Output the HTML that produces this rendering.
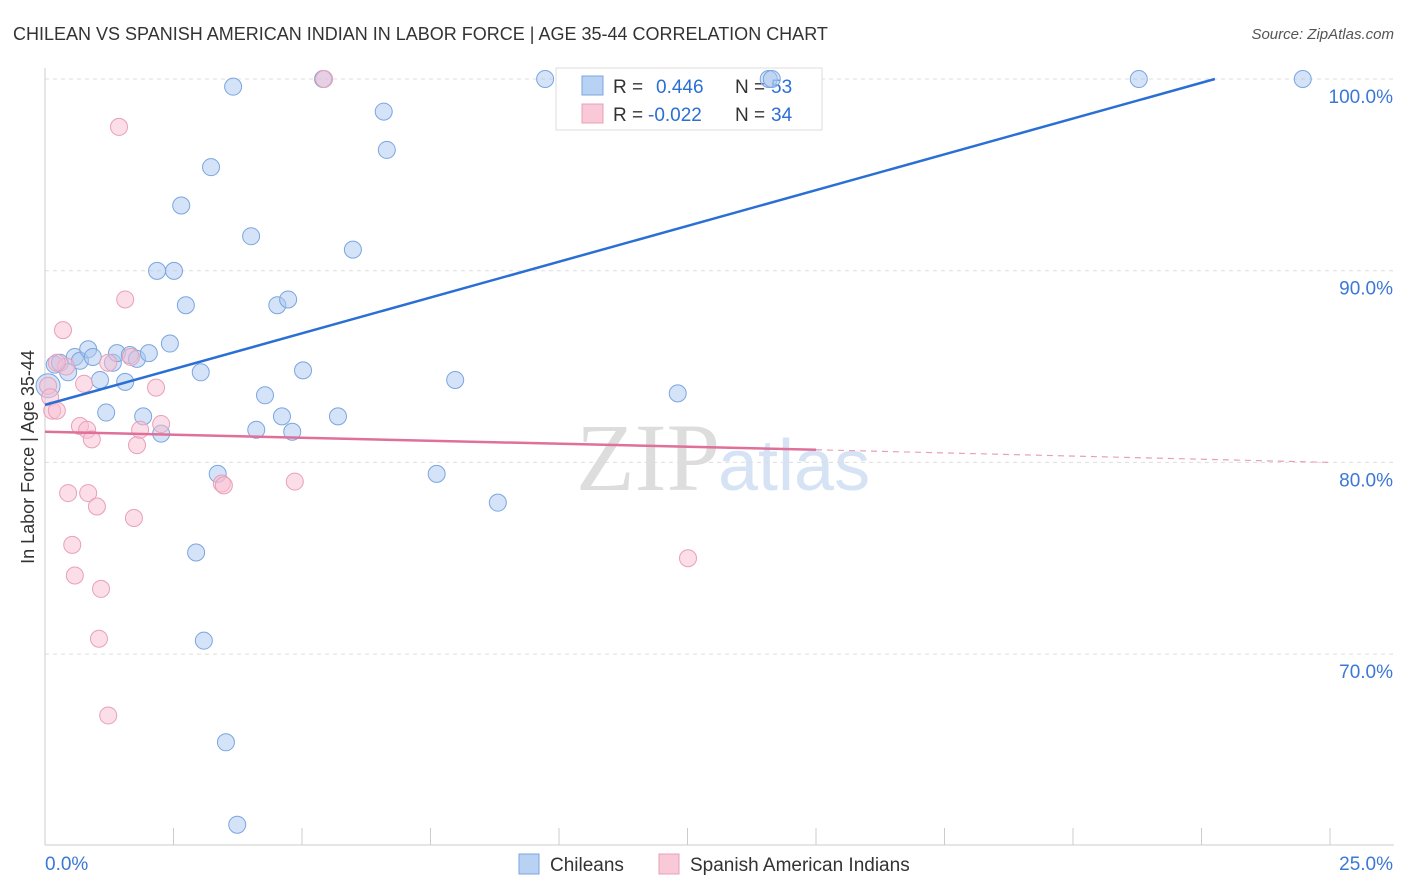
<!DOCTYPE html>
<html><head><meta charset="utf-8"><style>
body{margin:0;background:#fff;font-family:"Liberation Sans",sans-serif}
svg{display:block}
</style></head><body>
<svg id="c" width="1406" height="892" xmlns="http://www.w3.org/2000/svg">
<text x="13" y="40" font-size="18" fill="#333">CHILEAN VS SPANISH AMERICAN INDIAN IN LABOR FORCE | AGE 35-44 CORRELATION CHART</text>
<text x="1394" y="39" font-size="15" fill="#555" font-style="italic" text-anchor="end">Source: ZipAtlas.com</text>
<text x="720" y="490" font-size="96" font-family="Liberation Serif" fill="#ddd" text-anchor="end">ZIP</text>
<text x="718" y="490" font-size="72" fill="#d5e3f5">atlas</text>
<g id="grid"></g>
<g>
<rect x="556" y="68" width="266" height="62" fill="#fff" stroke="#ddd"/>
<rect x="582" y="76" width="21" height="19" fill="#b8d2f4" stroke="#7aa6e0"/>
<rect x="582" y="104" width="21" height="19" fill="#f9c9d8" stroke="#e8a0b8"/>
<text x="613" y="93" font-size="19" fill="#333">R = </text><text x="656" y="93" font-size="19" fill="#2a6fd4">0.446</text>
<text x="735" y="93" font-size="19" fill="#333">N = </text><text x="771" y="93" font-size="19" fill="#2a6fd4">53</text>
<text x="613" y="121" font-size="19" fill="#333">R = </text><text x="648" y="121" font-size="19" fill="#2a6fd4">-0.022</text>
<text x="735" y="121" font-size="19" fill="#333">N = </text><text x="771" y="121" font-size="19" fill="#2a6fd4">34</text>
</g>
<g id="marks"></g>
<text transform="translate(34,457) rotate(-90)" font-size="18" fill="#333" text-anchor="middle">In Labor Force | Age 35-44</text>
<g>
<rect x="519" y="854" width="20" height="20" fill="#b8d2f4" stroke="#7aa6e0"/>
<text x="550" y="871" font-size="19" fill="#333">Chileans</text>
<rect x="659" y="854" width="20" height="20" fill="#f9c9d8" stroke="#e8a0b8"/>
<text x="690" y="871" font-size="19" fill="#333">Spanish American Indians</text>
</g>
</svg>
<script>
const yTicks=[100,90,80,70];
const xTickLabels=["0.0%","25.0%"];
const blueX=[0.19,0.29,0.45,0.58,0.68,0.84,0.93,1.07,1.19,1.32,1.40,1.56,1.65,1.79,1.91,2.02,2.18,2.26,2.43,2.51,2.65,2.74,2.94,3.03,3.09,3.23,3.36,3.52,3.66,3.74,4.01,4.11,4.28,4.52,4.61,4.73,4.81,5.02,5.41,5.70,5.99,6.59,6.65,7.62,7.98,8.81,9.73,12.31,14.08,14.14,21.28,24.47,0.06];
const blueY=[85.1,85.2,84.7,85.5,85.3,85.9,85.5,84.3,82.6,85.2,85.7,84.2,85.6,85.4,82.4,85.7,89.99,81.5,86.2,89.99,93.4,88.2,75.3,84.7,70.7,95.4,79.4,65.4,99.6,61.1,91.8,81.7,83.5,88.2,82.4,88.5,81.6,84.8,100,82.4,91.1,98.3,96.3,79.4,84.3,77.9,100,83.6,100,100,100,100,84.0];
const pinkX=[0.06,0.10,0.14,0.23,0.35,0.41,0.45,0.53,0.58,0.68,0.76,0.82,0.84,0.91,1.01,1.05,1.09,1.23,1.23,1.44,1.56,1.67,1.73,1.79,1.85,2.16,2.26,3.44,3.48,4.86,5.43,12.51,0.23];
const pinkY=[84.0,83.4,82.7,82.7,86.9,85.0,78.4,75.7,74.1,81.9,84.1,81.7,78.4,81.2,77.7,70.8,73.4,66.8,85.2,97.5,88.5,85.5,77.1,80.9,81.7,83.9,82.0,78.9,78.8,79.0,100,75.0,85.2];
const ns="http://www.w3.org/2000/svg";
const X=v=>45+v/25*1285, Y=v=>79+(100-v)*19.17;
const svg=document.getElementById('c'),grid=document.getElementById('grid'),marks=document.getElementById('marks');
function mk(t,a,p){const e=document.createElementNS(ns,t);for(const k in a)e.setAttribute(k,a[k]);(p||svg).appendChild(e);return e;}
yTicks.forEach(t=>{
 const l=mk('line',{x1:45,x2:1394,y1:Y(t),y2:Y(t),stroke:'#ddd','stroke-dasharray':'4,4'},grid);
 
 
 const tx=mk('text',{x:1393,y:Y(t)+24,'font-size':19,fill:'#3b78d6','text-anchor':'end'},grid);
 tx.textContent=t.toFixed(1)+'%';
 
 
});
const ax=mk('line',{x1:45,x2:1394,y1:845,y2:845,stroke:'#ccc'},grid);


const ay=mk('line',{x1:45,x2:45,y1:68,y2:845,stroke:'#ccc'},grid);


for(let i=0;i<=10;i++){const t=mk('line',{x1:X(i*2.5),x2:X(i*2.5),y1:828,y2:845,stroke:'#ccc'},grid);
 
 }
[[xTickLabels[0],45,'start'],[xTickLabels[1],1393,'end']].forEach(d=>{
 const t=mk('text',{x:d[1],y:870,'font-size':19,fill:'#3b78d6','text-anchor':d[2]},grid);t.textContent=d[0];
 
 });
blueX.forEach((x,i)=>{const c=mk('circle',{cx:X(x),cy:Y(blueY[i]),r:i==blueX.length-1?12:8.5,fill:'rgba(169,200,240,0.5)',stroke:'#7aa6e0','stroke-width':1},marks);
 
 });
pinkX.forEach((x,i)=>{const c=mk('circle',{cx:X(x),cy:Y(pinkY[i]),r:8.5,fill:'rgba(249,190,210,0.5)',stroke:'#e8a0b8','stroke-width':1},marks);
 
 });
const bl=mk('line',{x1:X(0),y1:Y(83.0),x2:X(22.76),y2:Y(100),stroke:'#2a6fd4','stroke-width':2.5},marks);


const pl=mk('line',{x1:X(0),y1:Y(81.6),x2:X(15),y2:Y(80.66),stroke:'#e06f99','stroke-width':2.5},marks);


const pd=mk('line',{x1:X(15),y1:Y(80.66),x2:X(25),y2:Y(80.0),stroke:'#e8a0b8','stroke-width':1.2,'stroke-dasharray':'6,5'},marks);


</script>
</body></html>
